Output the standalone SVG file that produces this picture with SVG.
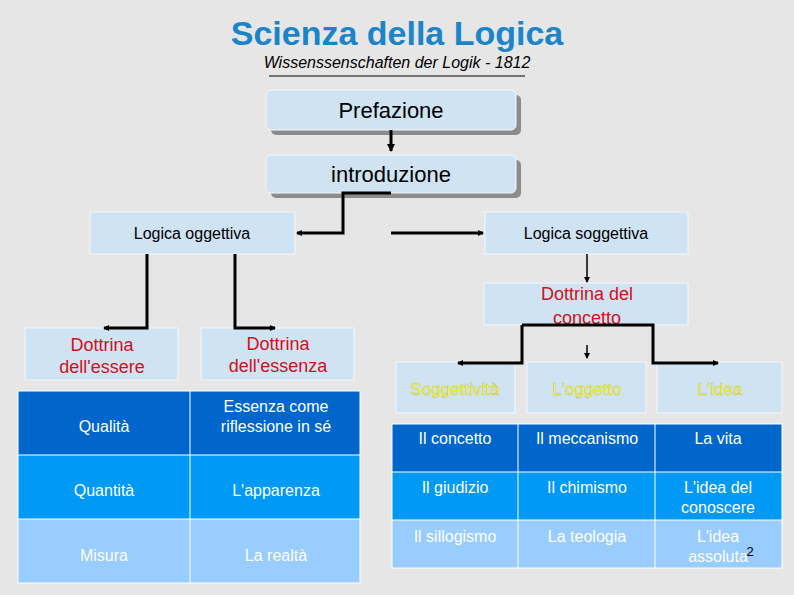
<svg xmlns="http://www.w3.org/2000/svg" width="794" height="595" viewBox="0 0 794 595">
<defs>
<style>
text{font-family:"Liberation Sans",Arial,sans-serif;text-anchor:middle}
.box{fill:#cfe3f3;stroke:#f4f8fb;stroke-width:1}
.sh{fill:#8c8c8c}
.lbl{font-size:16px;fill:#000}
.red{font-size:18px;fill:#d0101a}
.yel{font-size:17px;fill:#ffff33;stroke:#b8b860;stroke-width:0.4}
.cell{font-size:16px;fill:#fff}
.c{fill:none;stroke:#000;stroke-width:3}
.cs{fill:none;stroke:#000;stroke-width:1.5}
.grid{stroke:#fff;stroke-width:1}
</style>
<marker id="a" markerWidth="6" markerHeight="6" refX="5" refY="3" orient="auto" markerUnits="userSpaceOnUse"><path d="M0,0 L6,3 L0,6 z" fill="#000"/></marker>
<marker id="b" markerWidth="8" markerHeight="8" refX="7" refY="4" orient="auto" markerUnits="userSpaceOnUse"><path d="M0,0 L8,4 L0,8 z" fill="#000"/></marker>
</defs>
<rect width="794" height="595" fill="#e6e6e6"/>
<g id="title">
<text x="397" y="45" font-size="34" font-weight="bold" fill="#1a85c8">Scienza della Logica</text>
<text x="397" y="68" font-size="16" font-style="italic" fill="#000">Wissenssenschaften der Logik - 1812</text>
<line x1="269" y1="76" x2="525" y2="76" stroke="#000" stroke-width="1"/>
</g>
<g id="prefazione">
<rect class="sh" x="271" y="95" width="250" height="40" rx="5"/>
<rect class="box" x="266" y="90" width="250" height="40" rx="5"/>
<text x="391" y="118" font-size="22">Prefazione</text>
</g>
<g id="introduzione">
<rect class="sh" x="271" y="160" width="250" height="38" rx="5"/>
<rect class="box" x="266" y="155" width="250" height="38" rx="5"/>
<text x="391" y="182" font-size="22">introduzione</text>
</g>
<g id="logica-oggettiva"><rect class="box" x="90" y="212" width="205" height="42"/><text class="lbl" x="192" y="239">Logica oggettiva</text></g>
<g id="logica-soggettiva"><rect class="box" x="485" y="212" width="203" height="42"/><text class="lbl" x="586" y="239">Logica soggettiva</text></g>
<g id="dottrina-essere"><rect class="box" x="25" y="328" width="153" height="52"/><text class="red" x="102" y="351">Dottrina</text><text class="red" x="102" y="373">dell'essere</text></g>
<g id="dottrina-essenza"><rect class="box" x="201" y="328" width="153" height="52"/><text class="red" x="278" y="350">Dottrina</text><text class="red" x="278" y="372">dell'essenza</text></g>
<g id="dottrina-concetto"><rect class="box" x="484" y="283" width="204" height="42"/><text class="red" x="587" y="300">Dottrina del</text><text class="red" x="587" y="324">concetto</text></g>
<g id="soggettivita"><rect class="box" x="396" y="362" width="119" height="51"/><text class="yel" x="455" y="395">Soggettività</text></g>
<g id="oggetto"><rect class="box" x="527" y="362" width="119" height="51"/><text class="yel" x="587" y="395">L'oggetto</text></g>
<g id="idea"><rect class="box" x="657" y="362" width="125" height="51"/><text class="yel" x="720" y="395">L'idea</text></g>
<g id="table-left">
<rect x="18" y="391" width="342" height="64" fill="#0066cc"/>
<rect x="18" y="455" width="342" height="64" fill="#0099f5"/>
<rect x="18" y="519" width="342" height="64" fill="#99ccff"/>
<g class="grid"><line x1="18" y1="455" x2="360" y2="455"/><line x1="18" y1="519" x2="360" y2="519"/><line x1="190" y1="391" x2="190" y2="583"/><rect x="18" y="391" width="342" height="192" fill="none"/></g>
<text class="cell" x="104" y="432">Qualità</text>
<text class="cell" x="276" y="412">Essenza come</text>
<text class="cell" x="276" y="432">riflessione in sé</text>
<text class="cell" x="104" y="496">Quantità</text>
<text class="cell" x="276" y="496">L'apparenza</text>
<text class="cell" x="104" y="561">Misura</text>
<text class="cell" x="276" y="561">La realtà</text>
</g>
<g id="table-right">
<rect x="392" y="424" width="390" height="48" fill="#0066cc"/>
<rect x="392" y="472" width="390" height="48" fill="#0099f5"/>
<rect x="392" y="520" width="390" height="48" fill="#99ccff"/>
<g class="grid"><line x1="392" y1="472" x2="782" y2="472"/><line x1="392" y1="520" x2="782" y2="520"/><line x1="518" y1="424" x2="518" y2="568"/><line x1="655" y1="424" x2="655" y2="568"/><rect x="392" y="424" width="390" height="144" fill="none"/></g>
<text class="cell" x="455" y="444">Il concetto</text>
<text class="cell" x="587" y="444">Il meccanismo</text>
<text class="cell" x="718" y="444">La vita</text>
<text class="cell" x="455" y="493">Il giudizio</text>
<text class="cell" x="587" y="493">Il chimismo</text>
<text class="cell" x="718" y="493">L'idea del</text>
<text class="cell" x="718" y="513">conoscere</text>
<text class="cell" x="455" y="542">Il sillogismo</text>
<text class="cell" x="587" y="542">La teologia</text>
<text class="cell" x="718" y="542">L'idea</text>
<text class="cell" x="718" y="562">assoluta</text>
<text x="750" y="556" font-size="13" fill="#000">2</text>
</g>
<g id="connectors">
<path class="c" d="M391,130 V151" marker-end="url(#b)"/>
<path class="c" d="M391,193 H343 V233 H297" marker-end="url(#a)"/>
<path class="c" d="M391,233 H483" marker-end="url(#a)"/>
<path class="c" d="M147,254 V328 H104" marker-end="url(#a)"/>
<path class="c" d="M235,254 V328 H275" marker-end="url(#a)"/>
<path class="cs" d="M587,254 V282" marker-end="url(#a)"/>
<path class="c" d="M522,325 V363 H458" marker-end="url(#a)"/>
<path class="c" d="M522,325 H653 V363 H718" marker-end="url(#a)"/>
<path class="cs" d="M587,345 V358" marker-end="url(#a)"/>
</g>
</svg>
